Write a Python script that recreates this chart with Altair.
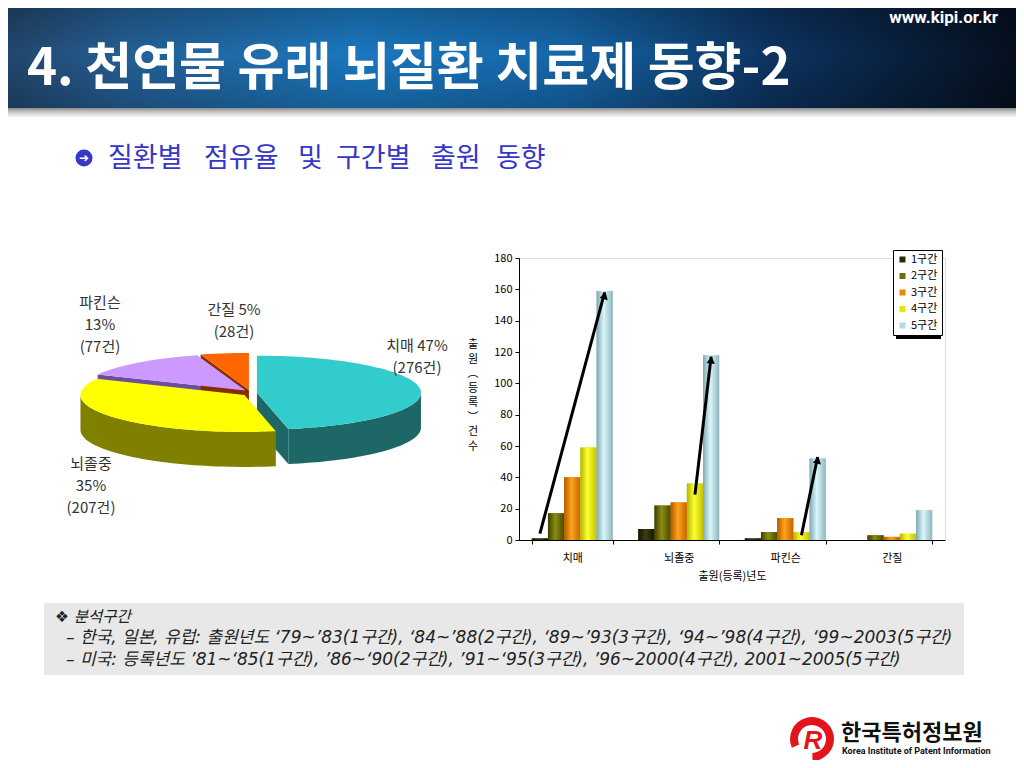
import altair as alt
import numpy as np
import pandas as pd

# ---------------- data ----------------
diseases = ["치매", "뇌졸중", "파킨슨", "간질"]
periods = ["1구간", "2구간", "3구간", "4구간", "5구간"]
dementia = [1, 17, 40, 59, 159]
stroke = [7, 22, 24, 36, 118]
parkinson = [1, 5, 14, 5, 52]
epilepsy = [0, 3, 2, 4, 19]
y_ticks = list(range(0, 181, 20))

pie_names = ["치매", "뇌졸중", "파킨슨", "간질"]
pie_counts = [276, 207, 77, 28]
pie_pcts = [47, 35, 13, 5]

arrow_disease = ["치매", "뇌졸중", "파킨슨"]
arrow_start_period = ["1구간", "4구간", "4구간"]
arrow_end_period = ["5구간", "5구간", "5구간"]
arrow_start_value = [4, 29, 3]
arrow_end_value = [158, 117, 53]

title_text = "4. 천연물 유래 뇌질환 치료제 동향-2"
site_text = "www.kipi.or.kr"
subtitle_words = ["질환별", "점유율", "및", "구간별", "출원", "동향"]
note_head = "❖ 분석구간"
note_lines = [
    "– 한국, 일본, 유럽: 출원년도 ‘79~’83(1구간), ‘84~’88(2구간), ‘89~’93(3구간), ‘94~’98(4구간), ‘99~2003(5구간)",
    "– 미국: 등록년도 ’81~‘85(1구간), ’86~‘90(2구간), ’91~‘95(3구간), ’96~2000(4구간),  2001~2005(5구간)",
]
org_kr = "한국특허정보원"
org_en = "Korea Institute of Patent Information"

# ---------------- layout / style ----------------
FONT = "Noto Sans CJK KR"
PX0, PY0, W, H = 519, 258, 426, 282
PAD_IN, PAD_OUT = 0.24, 0.12

def vx(v):
    return alt.value(v - PX0)

def vy(v):
    return alt.value(v - PY0)

one = pd.DataFrame({"k": [0]})

def txt(s, x, y, size, color="#000000", weight="normal", align="left",
        baseline="middle", font=FONT, style="normal", line_height=None):
    kw = {}
    if line_height is not None:
        kw = {"lineBreak": "\n", "lineHeight": line_height}
    return alt.Chart(one).mark_text(
        text=s, fontSize=size, color=color, fontWeight=weight, align=align,
        baseline=baseline, font=font, fontStyle=style, **kw
    ).encode(x=vx(x), y=vy(y))

def rect(x0, y0, x1, y1, color):
    return alt.Chart(one).mark_rect(color=color).encode(
        x=vx(x0), x2=vx(x1), y=vy(y0), y2=vy(y1))

def grad(stops, vertical=False):
    return alt.Gradient(
        gradient="linear",
        stops=[alt.GradientStop(color=c, offset=o) for o, c in stops],
        x1=0, y1=0, x2=0 if vertical else 1, y2=1 if vertical else 0)

# ---------------- header ----------------
banner = rect(0, 0, 1024, 108, grad([
    (0.0, "#22456a"), (0.12, "#245f95"), (0.35, "#1a78bf"),
    (0.55, "#1667aa"), (0.75, "#0d3462"), (1.0, "#050e1c")]))
banner_shade = rect(0, 0, 1024, 108, grad([
    (0.0, "rgba(0,0,0,0.25)"), (0.5, "rgba(0,0,0,0)"), (1.0, "rgba(0,0,0,0.2)")], vertical=True))
strip = rect(0, 108, 1024, 118, grad([(0.0, "#8a8a8a"), (0.4, "#c8c8c8"), (1.0, "#ffffff")], vertical=True))
title = txt(title_text, 27, 85, 51, color="#ffffff", weight="bold", baseline="alphabetic")
site = txt(site_text, 998, 18, 17, color="#ffffff", weight="bold", align="right",
           font="Liberation Sans Narrow, Roboto, sans-serif")

SUB_C = "#3636c8"
sub_x = [108, 204, 298, 336, 431, 496]
sub_circle = alt.Chart(one).mark_point(shape="circle", filled=True, color=SUB_C, size=290,
                                       opacity=1).encode(x=vx(84), y=vy(158))
sub_arrow = txt("➜", 84, 158, 12, color="#ffffff", align="center", font="DejaVu Sans")
sub_layers = [txt(w, x, 159, 27, color=SUB_C) for w, x in zip(subtitle_words, sub_x)]

# ---------------- 3D pie ----------------
CX, CY, RXP, RYP, DEPTH = 250, 393, 164, 37, 35
EXPLODE, EK = 7, 0.45
top_cols = ["#33cccc", "#ffff00", "#cc99ff", "#ff6600"]
side_cols = ["#1d6767", "#808000", "#6c4e9c", "#8a2c00"]

def ept(c, t):
    r = np.radians(t)
    return c[0] + RXP * np.sin(r), c[1] - RYP * np.cos(r)

rows = []
def add_poly(name, stage, col, pts):
    for i, (x, y) in enumerate(pts):
        rows.append({"poly": name, "stage": stage, "col": col, "i": i, "x": x, "y": y})

cum = np.cumsum([0] + pie_counts) / float(sum(pie_counts)) * 360.0
for k, name in enumerate(pie_names):
    a0, a1 = cum[k], cum[k + 1]
    mid = np.radians((a0 + a1) / 2)
    c = (CX + EXPLODE * np.sin(mid), CY - EXPLODE * EK * np.cos(mid))
    n = max(8, int((a1 - a0) / 2))
    arc = [ept(c, t) for t in np.linspace(a0, a1, n)]
    add_poly(name + "_top", "top", top_cols[k], [c] + arc)
    s0, s1 = max(a0, 90), min(a1, 270)
    if s1 > s0:
        sarc = [ept(c, t) for t in np.linspace(s0, s1, max(6, int((s1 - s0) / 2)))]
        add_poly(name + "_side", "side", side_cols[k],
                 sarc + [(x, y + DEPTH) for x, y in reversed(sarc)])
    for edge, ang in (("end", a1), ("start", a0)):
        vis = (0 < ang < 180) if edge == "end" else (180 < ang < 360)
        if vis:
            p = ept(c, ang)
            add_poly(name + "_cut" + edge, "cut", side_cols[k],
                     [c, p, (p[0], p[1] + DEPTH), (c[0], c[1] + DEPTH)])
pie_df = pd.DataFrame(rows)

def pie_stage(stage):
    return alt.Chart(pie_df).transform_filter(alt.datum.stage == stage).mark_line(
        filled=True, interpolate="linear"
    ).encode(
        x=alt.X("x:Q", scale=alt.Scale(domain=[PX0, PX0 + W], nice=False, zero=False), axis=None),
        y=alt.Y("y:Q", scale=alt.Scale(domain=[PY0, PY0 + H], reverse=True, nice=False, zero=False), axis=None),
        color=alt.Color("col:N", scale=None),
        detail="poly:N",
        order="i:Q",
    )

pie = alt.layer(pie_stage("cut"), pie_stage("side"), pie_stage("top"))

PIE_FS = 15
PIE_LH = 22
PIE_C = "#333333"
pie_label_layers = [
    txt(f"{pie_names[2]}\n{pie_pcts[2]}%\n({pie_counts[2]}건)", 100, 296, PIE_FS, PIE_C,
        align="center", baseline="top", line_height=PIE_LH),
    txt(f"{pie_names[3]} {pie_pcts[3]}%\n({pie_counts[3]}건)", 234, 303, PIE_FS, PIE_C,
        align="center", baseline="top", line_height=PIE_LH),
    txt(f"{pie_names[0]} {pie_pcts[0]}%\n({pie_counts[0]}건)", 417, 339, PIE_FS, PIE_C,
        align="center", baseline="top", line_height=PIE_LH),
    txt(f"{pie_names[1]}\n{pie_pcts[1]}%\n({pie_counts[1]}건)", 91, 457, PIE_FS, PIE_C,
        align="center", baseline="top", line_height=PIE_LH),
]

# ---------------- bar chart ----------------
series = [dementia, stroke, parkinson, epilepsy]
bars_df = pd.DataFrame([
    {"disease": d, "period": p, "count": v}
    for d, vals in zip(diseases, series) for p, v in zip(periods, vals)
])

legend_cols = ["#2b2b0a", "#6e6e10", "#e68a00", "#e6e600", "#b3dde6"]
grad_stops = [
    ["#141400", "#3d3d14", "#141400"],
    ["#3d3d00", "#8c8c14", "#4a4a00"],
    ["#b35900", "#ffa31a", "#c26600"],
    ["#b3b300", "#ffff33", "#c2c200"],
    ["#7fa8b0", "#d9f6fb", "#8fb5bd"],
]

x_enc = alt.X("disease:N", sort=diseases,
              scale=alt.Scale(domain=diseases, paddingInner=PAD_IN, paddingOuter=PAD_OUT),
              axis=alt.Axis(orient="bottom", title="출원(등록)년도", labelAngle=0, tickBand="extent",
                            tickSize=4, labelPadding=8, titlePadding=7, labelFontSize=11,
                            titleFontSize=11, titleFontWeight="normal", labelColor="#000",
                            titleColor="#000", domainColor="#000", tickColor="#000", grid=False,
                            labelFont=FONT, titleFont=FONT))
xo_enc = alt.XOffset("period:N", sort=periods, scale=alt.Scale(domain=periods, paddingInner=0, paddingOuter=0))
y_enc = alt.Y("count:Q", scale=alt.Scale(domain=[0, 180], nice=False),
              axis=alt.Axis(orient="left", title=None, values=y_ticks, tickSize=4, labelPadding=3,
                            labelFontSize=11, labelColor="#000", domainColor="#000",
                            tickColor="#000", grid=False, labelFont=FONT))

base_bars = alt.Chart(bars_df).mark_bar().encode(
    x=x_enc, xOffset=xo_enc, y=y_enc,
    color=alt.Color("period:N", sort=periods,
                    scale=alt.Scale(domain=periods, range=legend_cols),
                    legend=alt.Legend(title=None, orient="none", legendX=374, legendY=-8,
                                      symbolType="square", symbolSize=36, labelFontSize=11,
                                      labelFont=FONT, labelColor="#000", rowPadding=4.5,
                                      padding=4, strokeColor="#000", fillColor="#ffffff",
                                      symbolStrokeWidth=0, labelOffset=3)),
)

grad_layers = []
for p, st in zip(periods, grad_stops):
    grad_layers.append(
        alt.Chart(bars_df).transform_filter(alt.datum.period == p).mark_bar(
            color=grad([(0.0, st[0]), (0.45, st[1]), (1.0, st[2])])
        ).encode(x=x_enc, xOffset=xo_enc, y=y_enc)
    )

# arrows
step = W / (len(diseases) - PAD_IN + 2 * PAD_OUT)
sub = step * (1 - PAD_IN) / len(periods)
arrow_rows, head_rows = [], []
for j, d in enumerate(arrow_disease):
    arrow_rows.append({"aid": j, "pt": 0, "disease": d, "period": arrow_start_period[j], "count": arrow_start_value[j]})
    arrow_rows.append({"aid": j, "pt": 1, "disease": d, "period": arrow_end_period[j], "count": arrow_end_value[j]})
    dxp = (periods.index(arrow_end_period[j]) - periods.index(arrow_start_period[j])) * sub
    dyp = (arrow_end_value[j] - arrow_start_value[j]) * H / 180.0
    head_rows.append({"disease": d, "period": arrow_end_period[j], "count": arrow_end_value[j] - 2,
                      "ang": float(np.degrees(np.arctan2(dxp, dyp)))})
arrow_df = pd.DataFrame(arrow_rows)
head_df = pd.DataFrame(head_rows)

arrow_lines = alt.Chart(arrow_df).mark_line(color="#000", strokeWidth=3).encode(
    x=x_enc, xOffset=xo_enc, y=y_enc, detail="aid:N", order="pt:Q")
arrow_heads = alt.Chart(head_df).mark_point(shape="triangle-up", filled=True, color="#000",
                                            size=70, opacity=1).encode(
    x=x_enc, xOffset=xo_enc, y=y_enc, angle=alt.Angle("ang:Q", scale=None))

bar_layer = alt.layer(base_bars, *grad_layers, arrow_lines, arrow_heads)

y_title = alt.Chart(one).mark_text(
    text="출\n원\n︵\n등\n록\n︶\n건\n수", lineBreak="\n", lineHeight=14.5, fontSize=11,
    baseline="top", align="center", font=FONT, color="#000"
).encode(x=vx(473), y=vy(339))

legend_shadow = rect(896, 253, 941, 339, "#000000")

# ---------------- notes box ----------------
NOTE_FONT = "DejaVu Sans, Noto Sans CJK KR"
note_box = rect(44, 603, 964, 675, "#e8e8e8")
note_layers = [
    txt(note_head, 55, 617, 15.5, "#222222", style="italic", font=NOTE_FONT),
    txt(note_lines[0], 66, 638, 17, "#222222", style="italic", font=NOTE_FONT),
    txt(note_lines[1], 66, 660, 17, "#222222", style="italic", font=NOTE_FONT),
]

# ---------------- logo ----------------
logo_ring = alt.Chart(one).mark_arc(color="#e3141b").encode(
    x=vx(812), y=vy(739), theta=alt.value(4.3), theta2=alt.value(9.4),
    radius=alt.value(22), radius2=alt.value(14))
logo_r = txt("R", 813, 741, 26, "#e3141b", weight="bold", align="center", style="italic",
             font="Liberation Sans, sans-serif")
logo_kr = txt(org_kr, 841, 733, 22, "#111111", weight="bold")
logo_en = txt(org_en, 842, 751, 9, "#111111", weight="bold",
              font="Liberation Sans Narrow, Roboto, sans-serif")

chart = alt.layer(
    banner, banner_shade, strip, title, site, sub_circle, sub_arrow, *sub_layers,
    pie, *pie_label_layers,
    note_box, *note_layers,
    logo_ring, logo_r, logo_kr, logo_en,
    legend_shadow,
    bar_layer, y_title,
).resolve_scale(
    x="independent", y="independent", color="independent"
).properties(
    width=W, height=H,
    padding={"left": PX0 - 8, "top": PY0 - 8, "right": 1008 - (PX0 - 8) - W, "bottom": 752 - (PY0 - 8) - H},
    autosize=alt.AutoSizeParams(type="none"),
    background="#ffffff",
).configure_view(stroke="#000000", strokeWidth=1).configure(font=FONT)

chart.save("out.html", embed_options={"renderer": "svg", "actions": False})
